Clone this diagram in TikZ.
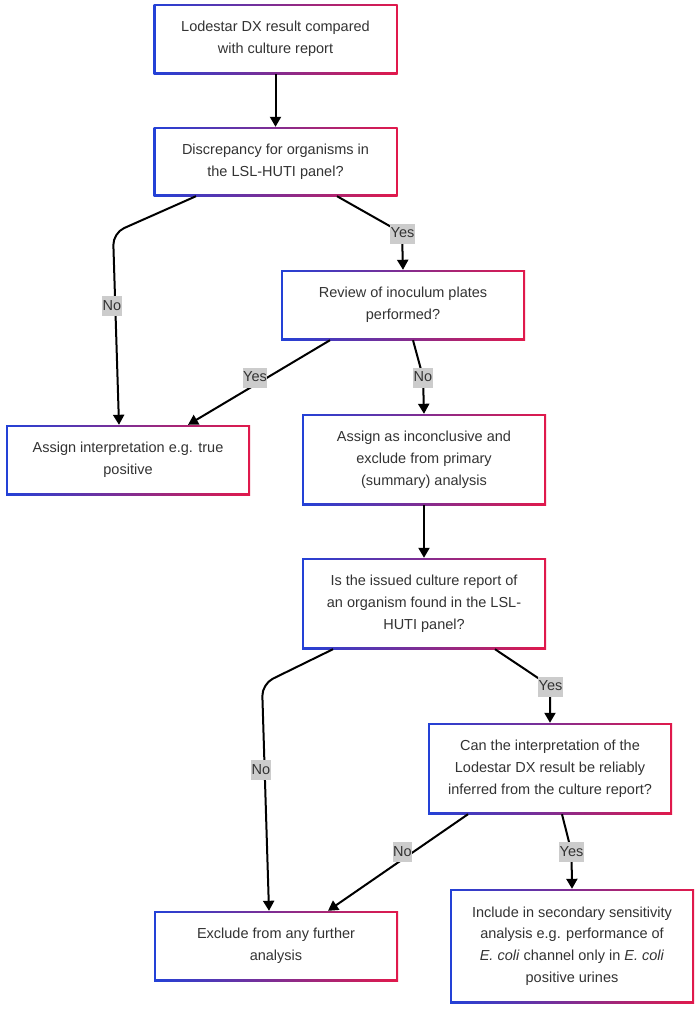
\documentclass[tikz,border=0pt]{standalone}
\usepackage{fontspec}
\setmainfont{Liberation Sans}
\usetikzlibrary{arrows.meta,calc}
\definecolor{gblue}{RGB}{35,65,215}
\definecolor{gred}{RGB}{225,25,75}
\definecolor{txt}{RGB}{51,51,51}
\definecolor{lblbg}{RGB}{204,204,204}
\tikzset{
  box/.style={rectangle, minimum width=244pt, inner sep=0pt, align=center,
    text=txt, font=\fontsize{14.5}{21.75}\selectfont,
    left color=gblue, right color=gred,
    path picture={\fill[white] ([shift={(2pt,2pt)}]path picture bounding box.south west) rectangle ([shift={(-2pt,-2pt)}]path picture bounding box.north east);}},
  edge/.style={draw=black, line width=2pt, -{Triangle[width=11pt,length=10pt]}},
  lbl/.style={fill=lblbg, text=txt, inner xsep=0.5pt, inner ysep=0pt,
    text height=14pt, text depth=6pt, font=\fontsize{14.5}{17}\selectfont}
}
\begin{document}
\begin{tikzpicture}[x=1pt,y=-1pt]
\fill[white] (0,0) rectangle (700,1010);
\useasboundingbox (0,0) rectangle (700,1010);

\node[box, minimum height=70pt] (b1) at (275.5,39) {Lodestar DX result compared\\with culture report};
\node[box, minimum height=69pt] (b2) at (275.5,161.5) {Discrepancy for organisms in\\the LSL-HUTI panel?};
\node[box, minimum height=70pt] (b3) at (403,305) {Review of inoculum plates\\performed?};
\node[box, minimum height=70pt] (b4) at (128,460) {Assign interpretation e.g. true\\positive};
\node[box, minimum height=91pt] (b5) at (424,459.5) {Assign as inconclusive and\\exclude from primary\\(summary) analysis};
\node[box, minimum height=91pt] (b6) at (424,603.5) {Is the issued culture report of\\an organism found in the LSL-\\HUTI panel?};
\node[box, minimum height=91pt] (b7) at (550,768.5) {Can the interpretation of the\\Lodestar DX result be reliably\\inferred from the culture report?};
\node[box, minimum height=70pt] (b8) at (276,946) {Exclude from any further\\analysis};
\node[box, minimum height=114pt] (b9) at (572,946) {Include in secondary sensitivity\\analysis e.g. performance of\\\textit{E. coli} channel only in \textit{E. coli}\\positive urines};

\draw[edge] (b1.south) -- (b2.north);
\draw[edge, rounded corners=12pt] ($(b2.south)+(-79.5,0)$) -- (113,233) -- ($(b4.north)+(-9,0)$);
\draw[edge, rounded corners=4pt] ($(b2.south)+(61.5,0)$) -- (402,233) -- (b3.north);
\draw[edge] ($(b3.south)+(-73,0)$) -- ($(b4.north)+(60,0)$);
\draw[edge, rounded corners=4pt] ($(b3.south)+(10,0)$) -- (423,377) -- (b5.north);
\draw[edge] (b5.south) -- (b6.north);
\draw[edge, rounded corners=12pt] ($(b6.south)+(-91,0)$) -- (262,684) -- ($(b8.north)+(-7,0)$);
\draw[edge, rounded corners=4pt] ($(b6.south)+(71,0)$) -- (550,686) -- (b7.north);
\draw[edge] ($(b7.south)+(-82,0)$) -- ($(b8.north)+(52,0)$);
\draw[edge, rounded corners=4pt] ($(b7.south)+(12,0)$) -- (571.5,852) -- (b9.north);

\node[lbl] (l1) at (112,306) {No};
\node[lbl] (l2) at (402.5,233.5) {Yes};
\node[lbl] (l3) at (255,377.5) {Yes};
\node[lbl] (l4) at (423,377.5) {No};
\node[lbl] (l5) at (261,770) {No};
\node[lbl] (l6) at (550.5,686.5) {Yes};
\node[lbl] (l7) at (402.5,852) {No};
\node[lbl] (l8) at (571.5,852) {Yes};
\end{tikzpicture}
\end{document}
